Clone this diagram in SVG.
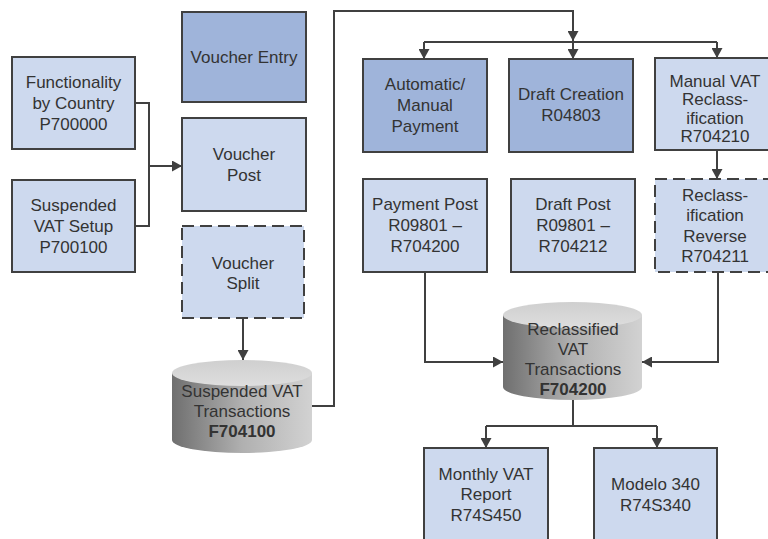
<svg xmlns="http://www.w3.org/2000/svg" width="768" height="539" viewBox="0 0 768 539">
<defs>
<style>
.box{stroke:#404040;stroke-width:2}
.dark{fill:#9fb4da}
.light{fill:#cdd9ee}
.dash{stroke-dasharray:12 6}
.t{font-family:"Liberation Sans",Arial,sans-serif;font-size:17px;fill:#333;text-anchor:middle}
.b{font-weight:bold}
.c{fill:none;stroke:#404040;stroke-width:2}
.a{marker-end:url(#arr)}
</style>
<marker id="arr" markerUnits="userSpaceOnUse" markerWidth="11" markerHeight="11" refX="10" refY="5.5" orient="auto">
<path d="M0,0 L10,5.5 L0,11 z" fill="#404040"/>
</marker>
<linearGradient id="body" x1="0" y1="0" x2="1" y2="0">
<stop offset="0" stop-color="#6f6f6f"/>
<stop offset="0.5" stop-color="#b0b0b0"/>
<stop offset="1" stop-color="#d2d2d2"/>
</linearGradient>
<linearGradient id="top" x1="0" y1="0" x2="0" y2="1">
<stop offset="0" stop-color="#cfcfcf"/>
<stop offset="1" stop-color="#dedede"/>
</linearGradient>
</defs>
<rect width="768" height="539" fill="#ffffff"/>

<g id="connectors">
<path class="c" d="M135,103 H149 V226 H135"/>
<path class="c a" d="M149,166 H182"/>
<path class="c a" d="M243,318 V360"/>
<path class="c a" d="M312,406 H334 V11 H573 V41"/>
<path class="c" d="M424,42 H717"/>
<path class="c a" d="M424,42 V59"/>
<path class="c a" d="M573,42 V59"/>
<path class="c a" d="M717,42 V58"/>
<path class="c a" d="M717,150 V179"/>
<path class="c a" d="M425,272 V362 H503"/>
<path class="c a" d="M718,272 V362 H642"/>
<path class="c" d="M573,400 V426 M486,426 H657"/>
<path class="c a" d="M486,426 V448"/>
<path class="c a" d="M657,426 V448"/>
</g>

<g id="voucher-entry">
<rect class="box dark" x="182" y="12" width="124" height="90"/>
<text class="t" x="244" y="63">Voucher Entry</text>
</g>
<g id="functionality">
<rect class="box light" x="12" y="57" width="123" height="92"/>
<text class="t" x="73.5" y="87.5">Functionality</text>
<text class="t" x="73.5" y="108.5">by Country</text>
<text class="t" x="73.5" y="129.5">P700000</text>
</g>
<g id="voucher-post">
<rect class="box light" x="182" y="118" width="124" height="93"/>
<text class="t" x="244" y="159.5">Voucher</text>
<text class="t" x="244" y="180.5">Post</text>
</g>
<g id="suspended-vat-setup">
<rect class="box light" x="12" y="180" width="123" height="92"/>
<text class="t" x="73.5" y="210.5">Suspended</text>
<text class="t" x="73.5" y="231.5">VAT Setup</text>
<text class="t" x="73.5" y="252.5">P700100</text>
</g>
<g id="voucher-split">
<rect class="box light dash" x="182" y="226" width="122" height="92"/>
<text class="t" x="243" y="269">Voucher</text>
<text class="t" x="243" y="289">Split</text>
</g>
<g id="suspended-vat-transactions">
<path d="M172,373 V440 A70,13 0 0 0 312,440 V373 Z" fill="url(#body)"/>
<ellipse cx="242" cy="373" rx="70" ry="13" fill="url(#top)"/>
<text class="t" x="242" y="397">Suspended VAT</text>
<text class="t" x="242" y="417">Transactions</text>
<text class="t b" x="242" y="437">F704100</text>
</g>
<g id="automatic-manual-payment">
<rect class="box dark" x="363" y="59" width="124" height="93"/>
<text class="t" x="425" y="90">Automatic/</text>
<text class="t" x="425" y="111">Manual</text>
<text class="t" x="425" y="132">Payment</text>
</g>
<g id="draft-creation">
<rect class="box dark" x="509" y="59" width="124" height="93"/>
<text class="t" x="571" y="100">Draft Creation</text>
<text class="t" x="571" y="121">R04803</text>
</g>
<g id="manual-vat-reclassification">
<rect class="box light" x="655" y="58" width="114" height="92"/>
<text class="t" x="715" y="86.5">Manual VAT</text>
<text class="t" x="715" y="105">Reclass-</text>
<text class="t" x="715" y="123.5">ification</text>
<text class="t" x="715" y="142">R704210</text>
</g>
<g id="payment-post">
<rect class="box light" x="363" y="179" width="124" height="93"/>
<text class="t" x="425" y="210">Payment Post</text>
<text class="t" x="425" y="231">R09801 –</text>
<text class="t" x="425" y="252">R704200</text>
</g>
<g id="draft-post">
<rect class="box light" x="511" y="179" width="124" height="93"/>
<text class="t" x="573" y="210">Draft Post</text>
<text class="t" x="573" y="231">R09801 –</text>
<text class="t" x="573" y="252">R704212</text>
</g>
<g id="reclassification-reverse">
<rect class="box light dash" x="655" y="179" width="114" height="93"/>
<text class="t" x="715" y="200.5">Reclass-</text>
<text class="t" x="715" y="221">ification</text>
<text class="t" x="715" y="241.5">Reverse</text>
<text class="t" x="715" y="262">R704211</text>
</g>
<g id="reclassified-vat-transactions">
<path d="M503,315 V387 A69.5,13 0 0 0 642,387 V315 Z" fill="url(#body)"/>
<ellipse cx="572.5" cy="315" rx="69.5" ry="13" fill="url(#top)"/>
<text class="t" x="573" y="335">Reclassified</text>
<text class="t" x="573" y="355">VAT</text>
<text class="t" x="573" y="375">Transactions</text>
<text class="t b" x="573" y="395">F704200</text>
</g>
<g id="monthly-vat-report">
<rect class="box light" x="424" y="448" width="124" height="100"/>
<text class="t" x="486" y="479.5">Monthly VAT</text>
<text class="t" x="486" y="500">Report</text>
<text class="t" x="486" y="520.5">R74S450</text>
</g>
<g id="modelo-340">
<rect class="box light" x="594" y="448" width="123" height="100"/>
<text class="t" x="655.5" y="490">Modelo 340</text>
<text class="t" x="655.5" y="510.5">R74S340</text>
</g>
</svg>
